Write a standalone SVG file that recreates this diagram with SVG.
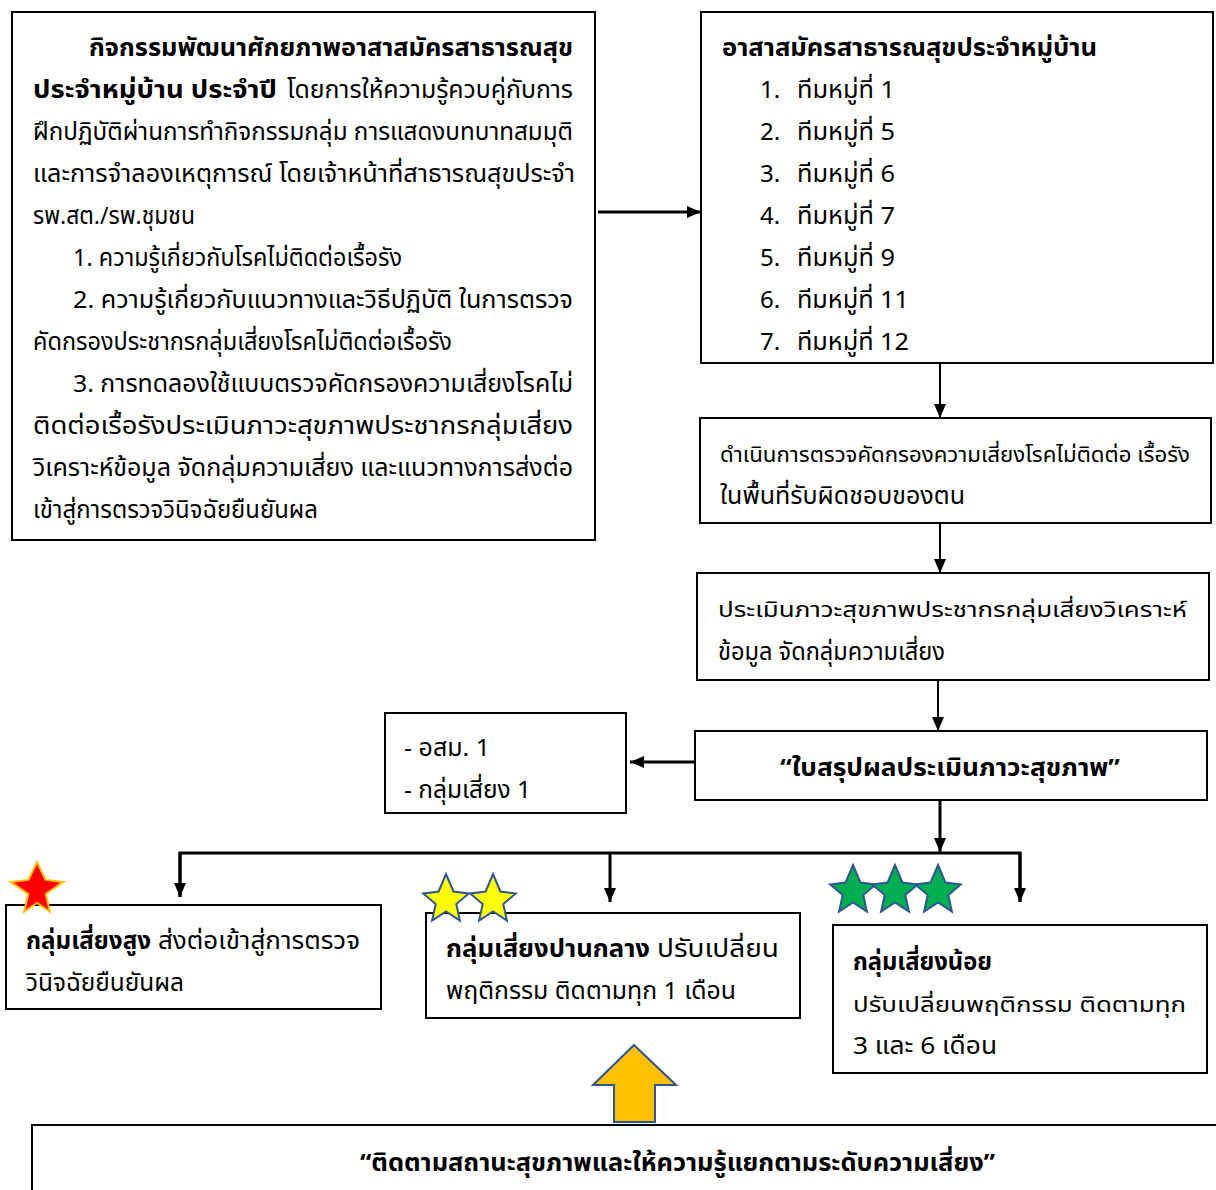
<svg xmlns="http://www.w3.org/2000/svg" width="1216" height="1190" viewBox="0 0 1216 1190">
<defs>
<style>
text{font-family:"Noto Sans Thai","Noto Sans Thai UI","Noto Sans","DejaVu Sans",sans-serif;font-size:24px;fill:#000}
.b{font-weight:bold}
.sm{font-size:21px}
.box{fill:#fff;stroke:#000;stroke-width:2}
.ln{stroke:#000;stroke-width:2;fill:none}
.tk{stroke:#000;stroke-width:3;fill:none}
.st{stroke:#2F5597;stroke-width:2}
</style>
<marker id="ah" viewBox="0 0 10 10" refX="10" refY="5" markerWidth="14" markerHeight="12" markerUnits="userSpaceOnUse" orient="auto" preserveAspectRatio="none"><path d="M0,0 L10,5 L0,10 z" fill="#000"/></marker>
</defs>
<rect width="1216" height="1190" fill="#fff"/>

<g id="connectors">
<line class="tk" x1="598" y1="212" x2="701" y2="212" marker-end="url(#ah)"/>
<line class="ln" x1="940" y1="363" x2="940" y2="418" marker-end="url(#ah)"/>
<line class="ln" x1="940" y1="523" x2="940" y2="573" marker-end="url(#ah)"/>
<line class="ln" x1="938" y1="680" x2="938" y2="731" marker-end="url(#ah)"/>
<line class="tk" x1="695" y1="762" x2="630" y2="762" marker-end="url(#ah)"/>
<line class="tk" x1="940" y1="800" x2="940" y2="852" marker-end="url(#ah)"/>
<polyline class="tk" points="180,897 180,853 1020,853 1020,902" fill="none"/>
<line class="tk" x1="180" y1="853" x2="180" y2="897" marker-end="url(#ah)"/>
<line class="tk" x1="610" y1="853" x2="610" y2="902" marker-end="url(#ah)"/>
<line class="tk" x1="1020" y1="853" x2="1020" y2="902" marker-end="url(#ah)"/>
<polygon points="634,1045 676,1085 655,1085 655,1122 614,1122 614,1085 593,1085" fill="#FFC000" stroke="#2F5597" stroke-width="2"/>
</g>

<g id="node-training">
<rect class="box" x="12" y="12" width="583" height="528"/>
<text class="b" x="89" y="56" textLength="484" lengthAdjust="spacingAndGlyphs">กิจกรรมพัฒนาศักยภาพอาสาสมัครสาธารณสุข</text>
<text class="b" x="33" y="98" textLength="244" lengthAdjust="spacingAndGlyphs">ประจำหมู่บ้าน ประจำปี</text>
<text x="287" y="98" textLength="286" lengthAdjust="spacingAndGlyphs">โดยการให้ความรู้ควบคู่กับการ</text>
<text x="33" y="140" textLength="540" lengthAdjust="spacingAndGlyphs">ฝึกปฏิบัติผ่านการทำกิจกรรมกลุ่ม การแสดงบทบาทสมมุติ</text>
<text x="33" y="182" textLength="542" lengthAdjust="spacingAndGlyphs">และการจำลองเหตุการณ์ โดยเจ้าหน้าที่สาธารณสุขประจำ</text>
<text x="33" y="224" textLength="162" lengthAdjust="spacingAndGlyphs">รพ.สต./รพ.ชุมชน</text>
<text x="73" y="266" textLength="329" lengthAdjust="spacingAndGlyphs">1. ความรู้เกี่ยวกับโรคไม่ติดต่อเรื้อรัง</text>
<text x="73" y="308" textLength="500" lengthAdjust="spacingAndGlyphs">2. ความรู้เกี่ยวกับแนวทางและวิธีปฏิบัติ ในการตรวจ</text>
<text x="33" y="350" textLength="419" lengthAdjust="spacingAndGlyphs">คัดกรองประชากรกลุ่มเสี่ยงโรคไม่ติดต่อเรื้อรัง</text>
<text x="73" y="392" textLength="500" lengthAdjust="spacingAndGlyphs">3. การทดลองใช้แบบตรวจคัดกรองความเสี่ยงโรคไม่</text>
<text x="33" y="434" textLength="540" lengthAdjust="spacingAndGlyphs">ติดต่อเรื้อรังประเมินภาวะสุขภาพประชากรกลุ่มเสี่ยง</text>
<text x="33" y="476" textLength="540" lengthAdjust="spacingAndGlyphs">วิเคราะห์ข้อมูล จัดกลุ่มความเสี่ยง และแนวทางการส่งต่อ</text>
<text x="33" y="518" textLength="285" lengthAdjust="spacingAndGlyphs">เข้าสู่การตรวจวินิจฉัยยืนยันผล</text>
</g>

<g id="node-volunteers">
<rect class="box" x="701" y="12" width="512" height="351"/>
<text class="b" x="722" y="56" textLength="375" lengthAdjust="spacingAndGlyphs">อาสาสมัครสาธารณสุขประจำหมู่บ้าน</text>
<text x="760" y="98">1.</text><text x="797" y="98" textLength="98" lengthAdjust="spacingAndGlyphs">ทีมหมู่ที่ 1</text>
<text x="760" y="140">2.</text><text x="797" y="140" textLength="98" lengthAdjust="spacingAndGlyphs">ทีมหมู่ที่ 5</text>
<text x="760" y="182">3.</text><text x="797" y="182" textLength="98" lengthAdjust="spacingAndGlyphs">ทีมหมู่ที่ 6</text>
<text x="760" y="224">4.</text><text x="797" y="224" textLength="98" lengthAdjust="spacingAndGlyphs">ทีมหมู่ที่ 7</text>
<text x="760" y="266">5.</text><text x="797" y="266" textLength="98" lengthAdjust="spacingAndGlyphs">ทีมหมู่ที่ 9</text>
<text x="760" y="308">6.</text><text x="797" y="308" textLength="112" lengthAdjust="spacingAndGlyphs">ทีมหมู่ที่ 11</text>
<text x="760" y="350">7.</text><text x="797" y="350" textLength="112" lengthAdjust="spacingAndGlyphs">ทีมหมู่ที่ 12</text>
</g>

<g id="node-screening">
<rect class="box" x="700" y="418" width="511" height="105"/>
<text class="sm" x="720" y="462" textLength="470" lengthAdjust="spacingAndGlyphs">ดำเนินการตรวจคัดกรองความเสี่ยงโรคไม่ติดต่อ เรื้อรัง</text>
<text x="720" y="504" textLength="245" lengthAdjust="spacingAndGlyphs">ในพื้นที่รับผิดชอบของตน</text>
</g>

<g id="node-assess">
<rect class="box" x="697" y="573" width="512" height="107"/>
<text class="sm" x="718" y="617" textLength="469" lengthAdjust="spacingAndGlyphs">ประเมินภาวะสุขภาพประชากรกลุ่มเสี่ยงวิเคราะห์</text>
<text x="718" y="660" textLength="227" lengthAdjust="spacingAndGlyphs">ข้อมูล จัดกลุ่มความเสี่ยง</text>
</g>

<g id="node-summary">
<rect class="box" x="695" y="731" width="512" height="69"/>
<text class="b" x="780" y="776" textLength="340" lengthAdjust="spacingAndGlyphs">“ใบสรุปผลประเมินภาวะสุขภาพ”</text>
</g>

<g id="node-count">
<rect class="box" x="385" y="713" width="241" height="100"/>
<text x="404" y="756" textLength="86" lengthAdjust="spacingAndGlyphs">- อสม. 1</text>
<text x="404" y="798" textLength="127" lengthAdjust="spacingAndGlyphs">- กลุ่มเสี่ยง 1</text>
</g>

<g id="node-high">
<rect class="box" x="6" y="905" width="375" height="104"/>
<text class="b" x="26" y="949" textLength="125" lengthAdjust="spacingAndGlyphs">กลุ่มเสี่ยงสูง</text>
<text x="158" y="949" textLength="202" lengthAdjust="spacingAndGlyphs">ส่งต่อเข้าสู่การตรวจ</text>
<text x="26" y="991" textLength="158" lengthAdjust="spacingAndGlyphs">วินิจฉัยยืนยันผล</text>
<polygon points="37,862 45.6,879.9 63.4,881.9 45.7,893.9 49.9,911.8 37,903 24.1,911.8 28.3,893.9 10.6,881.9 28.4,879.9" fill="#FF0000" stroke="#FFC000" stroke-width="2"/>
</g>

<g id="node-medium">
<rect class="box" x="426" y="913" width="374" height="105"/>
<text class="b" x="446" y="957" textLength="204" lengthAdjust="spacingAndGlyphs">กลุ่มเสี่ยงปานกลาง</text>
<text x="657" y="957" textLength="122" lengthAdjust="spacingAndGlyphs">ปรับเปลี่ยน</text>
<text x="446" y="999" textLength="290" lengthAdjust="spacingAndGlyphs">พฤติกรรม ติดตามทุก 1 เดือน</text>
<polygon class="st" fill="#FFFF00" points="446,874 453.4,891.5 468.8,893.4 456.3,904.0 459.9,920.5 446,911.5 432.1,920.5 435.7,904.0 423.2,893.4 438.6,891.5"/>
<polygon class="st" fill="#FFFF00" points="493,874 500.4,891.5 515.8,893.4 503.3,904.0 506.9,920.5 493,911.5 479.1,920.5 482.7,904.0 470.2,893.4 485.6,891.5"/>
</g>

<g id="node-low">
<rect class="box" x="833" y="925" width="374" height="148"/>
<text class="b" x="853" y="970" textLength="139" lengthAdjust="spacingAndGlyphs">กลุ่มเสี่ยงน้อย</text>
<text class="sm" x="853" y="1012" textLength="333" lengthAdjust="spacingAndGlyphs">ปรับเปลี่ยนพฤติกรรม ติดตามทุก</text>
<text x="853" y="1054" textLength="144" lengthAdjust="spacingAndGlyphs">3 และ 6 เดือน</text>
<polygon class="st" fill="#00B050" points="853,865 860.4,882.5 875.8,884.4 863.3,895.0 866.9,911.5 853,902.5 839.1,911.5 842.7,895.0 830.2,884.4 845.6,882.5"/>
<polygon class="st" fill="#00B050" points="895,865 902.4,882.5 917.8,884.4 905.3,895.0 908.9,911.5 895,902.5 881.1,911.5 884.7,895.0 872.2,884.4 887.6,882.5"/>
<polygon class="st" fill="#00B050" points="938,865 945.4,882.5 960.8,884.4 948.3,895.0 951.9,911.5 938,902.5 924.1,911.5 927.7,895.0 915.2,884.4 930.6,882.5"/>
</g>

<g id="node-followup">
<rect class="box" x="32" y="1125" width="1200" height="90"/>
<text class="b" x="360" y="1171" textLength="635" lengthAdjust="spacingAndGlyphs">“ติดตามสถานะสุขภาพและให้ความรู้แยกตามระดับความเสี่ยง”</text>
</g>
</svg>
